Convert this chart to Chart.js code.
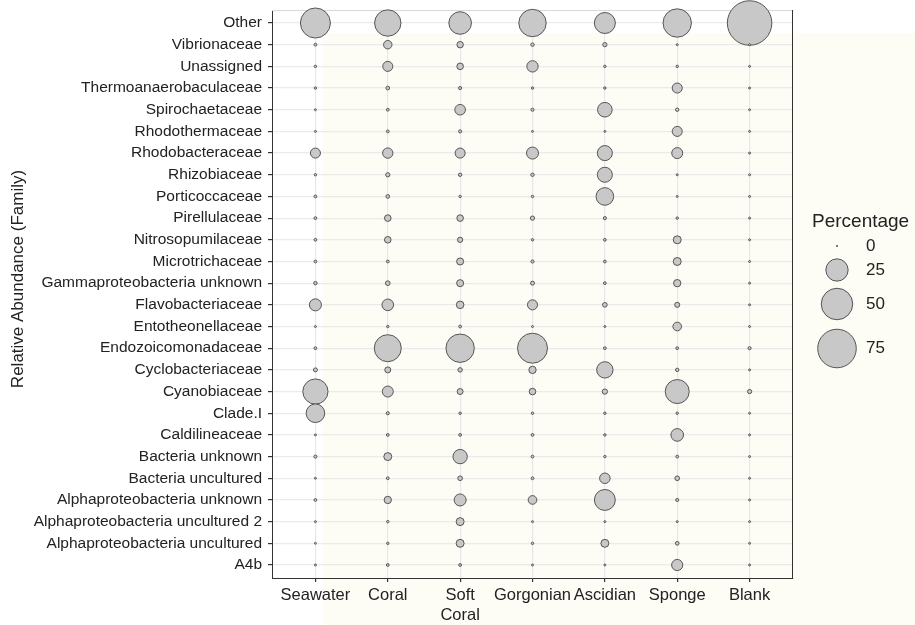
<!DOCTYPE html>
<html>
<head>
<meta charset="utf-8">
<script src="https://cdn.jsdelivr.net/npm/chart.js@4.4.1/dist/chart.umd.min.js"></script>
<style>
  html, body { margin: 0; padding: 0; background: #fff; }
  #wrap { position: relative; width: 915px; height: 625px; }
  /* faint cream wash visible behind most of the reference */
  #tint { position: absolute; left: 323px; top: 33px; width: 592px; height: 592px; background: #fdfdf6; }
  #c { position: absolute; left: 0; top: 0; }
</style>
</head>
<body>
<div id="wrap"><div id="tint"></div><canvas id="c" width="915" height="625"></canvas></div>
<script>
// ── data ─────────────────────────────────────────────
const samples = ["Seawater", "Coral", "Soft Coral", "Gorgonian", "Ascidian", "Sponge", "Blank"];
const sampleTicks = ["Seawater", "Coral", ["Soft", "Coral"], "Gorgonian", "Ascidian", "Sponge", "Blank"];

const families = [
  "Other", "Vibrionaceae", "Unassigned", "Thermoanaerobaculaceae", "Spirochaetaceae",
  "Rhodothermaceae", "Rhodobacteraceae", "Rhizobiaceae", "Porticoccaceae", "Pirellulaceae",
  "Nitrosopumilaceae", "Microtrichaceae", "Gammaproteobacteria unknown", "Flavobacteriaceae",
  "Entotheonellaceae", "Endozoicomonadaceae", "Cyclobacteriaceae", "Cyanobiaceae", "Clade.I",
  "Caldilineaceae", "Bacteria unknown", "Bacteria uncultured", "Alphaproteobacteria unknown",
  "Alphaproteobacteria uncultured 2", "Alphaproteobacteria uncultured", "A4b"
];

// percentages, one value per family (same order as `families`)
const seawater  = [45.4, 0.3, 0.2, 0.2, 0.1, 0.1, 5.0, 0.2, 0.3, 0.3, 0.3, 0.3, 0.5, 7.2, 0.1, 0.3, 0.7, 32.0, 17.4, 0.1, 0.4, 0.1, 0.3, 0.1, 0.1, 0.1];
const coral     = [35.0, 3.5, 5.0, 0.6, 0.3, 0.3, 5.3, 0.8, 0.6, 2.1, 2.1, 0.3, 1.0, 6.7, 0.2, 36.7, 1.7, 6.0, 0.4, 0.3, 3.1, 0.3, 2.6, 0.2, 0.2, 0.3];
const softCoral = [25.7, 2.0, 2.1, 0.4, 5.6, 0.4, 5.0, 0.5, 0.2, 2.1, 1.3, 2.4, 2.4, 2.8, 0.3, 40.6, 0.9, 1.7, 0.2, 0.3, 10.3, 1.0, 7.2, 3.1, 3.1, 0.3];
const gorgonian = [37.8, 0.5, 6.4, 0.2, 0.4, 0.1, 7.2, 0.5, 0.2, 0.8, 0.2, 0.4, 0.7, 5.0, 0.1, 45.4, 2.6, 2.1, 0.2, 0.3, 0.3, 0.3, 3.7, 0.1, 0.2, 0.1];
const ascidian  = [22.2, 0.8, 0.2, 0.2, 10.7, 0.1, 11.3, 11.3, 15.6, 0.4, 0.3, 0.3, 0.3, 1.0, 0.1, 0.3, 13.4, 1.3, 0.2, 0.2, 0.2, 5.5, 22.0, 0.1, 3.1, 0.1];
const sponge    = [40.6, 0.1, 0.2, 5.0, 0.5, 5.0, 6.0, 0.1, 0.1, 0.2, 3.1, 3.1, 2.6, 1.2, 3.7, 0.3, 0.5, 29.0, 0.2, 8.0, 0.3, 1.0, 0.4, 0.1, 0.6, 6.2];
const blank     = [100, 0.1, 0.1, 0.1, 0.1, 0.1, 0.1, 0.1, 0.1, 0.1, 0.1, 0.1, 0.1, 0.1, 0.1, 0.4, 0.1, 0.8, 0.1, 0.1, 0.1, 0.1, 0.1, 0.1, 0.1, 0.1];

const columns = [seawater, coral, softCoral, gorgonian, ascidian, sponge, blank];
const legendBreaks = [0, 25, 50, 75];

// ── size scale (area proportional to percentage) ─────
const radius = (v) => Math.sqrt(0.5 + 4.95 * v);

const FONT = "'Liberation Sans', Arial, sans-serif";
const INK = "#222";

const datasets = columns.map((vals, si) => ({
  label: samples[si],
  data: vals.map((v, fi) => ({ x: si, y: fi, r: radius(v) })),
  backgroundColor: "#c8c8c8",
  borderColor: "#555",
  borderWidth: 1,
  clip: false,
}));

// panel border, y title and the size legend
const extras = {
  id: "extras",
  beforeDatasetsDraw(chart) {
    const { ctx, chartArea: a } = chart;
    ctx.save();
    ctx.lineWidth = 1;
    ctx.strokeStyle = "#d9d9d9";
    ctx.beginPath();
    ctx.moveTo(a.left, a.top + 0.5);
    ctx.lineTo(a.right, a.top + 0.5);
    ctx.stroke();
    ctx.strokeStyle = "#333";
    ctx.beginPath();
    ctx.moveTo(a.right - 0.5, a.top);
    ctx.lineTo(a.right - 0.5, a.bottom);
    ctx.stroke();
    ctx.restore();
  },
  afterDraw(chart) {
    const { ctx } = chart;
    ctx.save();
    ctx.fillStyle = INK;

    // y title
    ctx.save();
    ctx.translate(18, 279);
    ctx.rotate(-Math.PI / 2);
    ctx.font = "17px " + FONT;
    ctx.textAlign = "center";
    ctx.textBaseline = "middle";
    ctx.fillText("Relative Abundance (Family)", 0, 0);
    ctx.restore();

    // legend
    ctx.font = "19px " + FONT;
    ctx.textAlign = "left";
    ctx.textBaseline = "middle";
    ctx.fillText("Percentage", 812, 222);

    const keyY = [246, 270, 304, 348.5];
    legendBreaks.forEach((b, i) => {
      ctx.beginPath();
      ctx.arc(837, keyY[i], radius(b), 0, Math.PI * 2);
      ctx.fillStyle = "#c8c8c8";
      ctx.fill();
      ctx.lineWidth = 1;
      ctx.strokeStyle = "#555";
      ctx.stroke();
      ctx.fillStyle = INK;
      ctx.font = "17px " + FONT;
      ctx.fillText(String(b), 866, keyY[i]);
    });
    ctx.restore();
  },
};

new Chart(document.getElementById("c"), {
  type: "bubble",
  data: { datasets },
  options: {
    responsive: false,
    animation: false,
    // bubbles may overflow the panel (like the Blank/Other one), so no auto padding
    layout: { autoPadding: false, padding: { left: 0, right: 122, top: 10, bottom: 0 } },
    plugins: { legend: { display: false }, tooltip: { enabled: false } },
    scales: {
      x: {
        type: "linear",
        min: -0.6,
        max: 6.6,
        afterBuildTicks: (s) => { s.ticks = samples.map((_, i) => ({ value: i })); },
        afterFit: (s) => { s.height = 47; s.paddingLeft = 0; s.paddingRight = 0; },
        ticks: {
          autoSkip: false,
          maxRotation: 0,
          padding: 4,
          color: INK,
          font: { family: FONT, size: 16.5 },
          callback: (v) => sampleTicks[v],
        },
        grid: { color: "#ece6ea", lineWidth: 1.2, tickColor: "#333", tickLength: 4 },
        border: { color: "#333", width: 1 },
      },
      y: {
        type: "linear",
        reverse: true,
        min: -0.6,
        max: 25.6,
        afterBuildTicks: (s) => { s.ticks = families.map((_, i) => ({ value: i })); },
        afterFit: (s) => { s.width = 272; s.paddingTop = 0; s.paddingBottom = 0; },
        ticks: {
          autoSkip: false,
          padding: 6,
          color: INK,
          font: { family: FONT, size: 15.5 },
          callback: (v) => families[v],
        },
        grid: { color: "#ebebeb", lineWidth: 1.2, tickColor: "#333", tickLength: 4 },
        border: { color: "#333", width: 1 },
      },
    },
  },
  plugins: [extras],
});
</script>
</body>
</html>
